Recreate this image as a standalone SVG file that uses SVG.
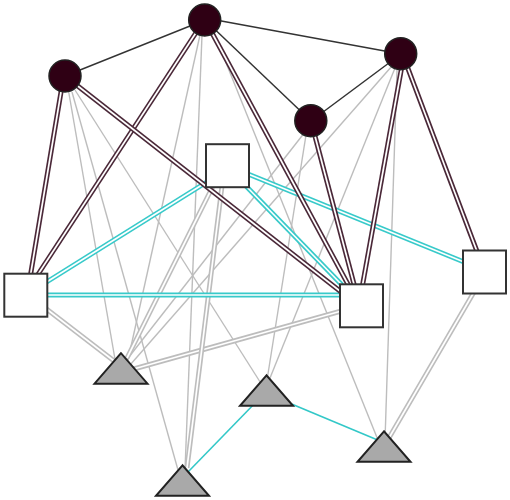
<svg xmlns="http://www.w3.org/2000/svg" xmlns:xlink="http://www.w3.org/1999/xlink" width="510" height="500" viewBox="0 0 510 500">
<style>
line{fill:none;stroke-linecap:butt}
.g1{stroke:#bdbdbd;stroke-width:1.4}
.c1{stroke:#33c8c8;stroke-width:1.6}
.b1{stroke:#333;stroke-width:1.5}
.go{stroke:#bdbdbd;stroke-width:5}
.co{stroke:#38caca;stroke-width:5}
.mo{stroke:#4a2838;stroke-width:5}
.in{stroke:#fff;stroke-width:1.7}
.circ{fill:#2f0014;stroke:#222;stroke-width:1.5}
.sq{fill:#fff;stroke:#333;stroke-width:2}
.tri{fill:#a9a9a9;stroke:#222;stroke-width:2;stroke-linejoin:miter}
</style>
<defs>
<line id="e12" x1="40" y1="304" x2="118" y2="364"/>
<line id="e13" x1="130" y1="370" x2="345" y2="310"/>
<line id="e14" x1="474" y1="292" x2="386" y2="443"/>
<line id="e15" x1="213" y1="186" x2="127" y2="358"/>
<line id="e16" x1="222" y1="186" x2="187" y2="468"/>
<line id="e17" x1="210" y1="180" x2="45" y2="283"/>
<line id="e18" x1="45" y1="295" x2="342" y2="295"/>
<line id="e19" x1="245" y1="185" x2="342" y2="285"/>
<line id="e20" x1="248" y1="174" x2="464" y2="262"/>
<line id="e23" x1="63" y1="80" x2="28" y2="290"/>
<line id="e24" x1="203" y1="22" x2="33" y2="282"/>
<line id="e25" x1="65" y1="76" x2="345" y2="295"/>
<line id="e26" x1="205" y1="20" x2="350" y2="288"/>
<line id="e27" x1="311" y1="121" x2="355" y2="288"/>
<line id="e28" x1="403" y1="60" x2="362" y2="288"/>
<line id="e29" x1="404" y1="58" x2="481" y2="262"/>
<polygon id="tri" points="0,-15 -26.5,15.5 26.5,15.5"/>
</defs>
<g id="connectors">
<line class="g1" x1="68" y1="88" x2="116" y2="365"/>
<line class="g1" x1="72" y1="92" x2="178" y2="470"/>
<line class="g1" x1="75" y1="90" x2="262" y2="385"/>
<line class="g1" x1="200" y1="35" x2="128" y2="360"/>
<line class="g1" x1="202" y1="35" x2="185" y2="470"/>
<line class="g1" x1="212" y1="28" x2="380" y2="445"/>
<line class="g1" x1="305" y1="132" x2="125" y2="362"/>
<line class="g1" x1="306" y1="135" x2="267" y2="380"/>
<line class="g1" x1="392" y1="66" x2="130" y2="365"/>
<line class="g1" x1="395" y1="68" x2="270" y2="378"/>
<line class="g1" x1="397" y1="70" x2="385" y2="440"/>
<use xlink:href="#e12" class="go"/><use xlink:href="#e12" class="in"/>
<use xlink:href="#e13" class="go"/><use xlink:href="#e13" class="in"/>
<use xlink:href="#e14" class="go"/><use xlink:href="#e14" class="in"/>
<use xlink:href="#e15" class="go"/><use xlink:href="#e15" class="in"/>
<use xlink:href="#e16" class="go"/><use xlink:href="#e16" class="in"/>
<use xlink:href="#e17" class="co"/><use xlink:href="#e17" class="in"/>
<use xlink:href="#e18" class="co"/><use xlink:href="#e18" class="in"/>
<use xlink:href="#e19" class="co"/><use xlink:href="#e19" class="in"/>
<use xlink:href="#e20" class="co"/><use xlink:href="#e20" class="in"/>
<line class="c1" x1="188" y1="472" x2="258" y2="400"/>
<line class="c1" x1="282" y1="400" x2="380" y2="441"/>
<use xlink:href="#e23" class="mo"/><use xlink:href="#e23" class="in"/>
<use xlink:href="#e24" class="mo"/><use xlink:href="#e24" class="in"/>
<use xlink:href="#e25" class="mo"/><use xlink:href="#e25" class="in"/>
<use xlink:href="#e26" class="mo"/><use xlink:href="#e26" class="in"/>
<use xlink:href="#e27" class="mo"/><use xlink:href="#e27" class="in"/>
<use xlink:href="#e28" class="mo"/><use xlink:href="#e28" class="in"/>
<use xlink:href="#e29" class="mo"/><use xlink:href="#e29" class="in"/>
<line class="b1" x1="65" y1="76" x2="205" y2="20"/>
<line class="b1" x1="205" y1="18" x2="401" y2="54"/>
<line class="b1" x1="205" y1="20" x2="311" y2="121"/>
<line class="b1" x1="311" y1="121" x2="401" y2="54"/>
</g>
<g id="C1"><circle class="circ" cx="65" cy="76" r="16"/></g>
<g id="C2"><circle class="circ" cx="204.7" cy="20" r="16"/></g>
<g id="C3"><circle class="circ" cx="400.7" cy="53.7" r="16"/></g>
<g id="C4"><circle class="circ" cx="310.8" cy="120.7" r="16"/></g>
<g id="S1"><rect class="sq" x="206" y="144.2" width="43" height="43"/></g>
<g id="S2"><rect class="sq" x="4.3" y="273.7" width="43" height="43"/></g>
<g id="S3"><rect class="sq" x="340" y="284.3" width="43" height="43"/></g>
<g id="S4"><rect class="sq" x="463" y="250.5" width="43" height="43"/></g>
<g id="T1"><use xlink:href="#tri" class="tri" x="121" y="368.2"/></g>
<g id="T2"><use xlink:href="#tri" class="tri" x="182.5" y="480.3"/></g>
<g id="T3"><use xlink:href="#tri" class="tri" x="266.5" y="390.3"/></g>
<g id="T4"><use xlink:href="#tri" class="tri" x="384" y="446.3"/></g>
</svg>
